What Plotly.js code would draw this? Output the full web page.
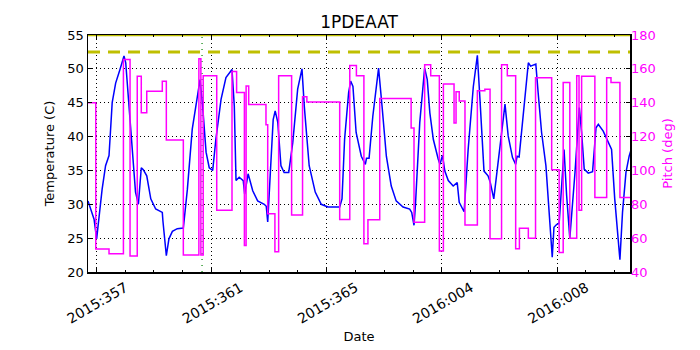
<!DOCTYPE html>
<html>
<head>
<meta charset="utf-8">
<script src="https://cdn.plot.ly/plotly-3.0.1.min.js"></script>
<style>
  body { margin: 0; background: #fff; }
  #graph { width: 700px; height: 350px; }
</style>
</head>
<body>
<div id="graph"></div>
<script>
// days counted from 2015:357 00:00
const tempDays = [-0.29, -0.08, 0.01, 0.2, 0.32, 0.44, 0.55, 0.67, 0.82, 0.96, 1.02, 1.19, 1.36, 1.46, 1.56, 1.63, 1.75, 1.89, 2.06, 2.29,
  2.31, 2.43, 2.52, 2.64, 2.81, 3.02, 3.16, 3.33, 3.5, 3.6, 3.69, 3.81, 3.92, 4.04, 4.15, 4.33, 4.5, 4.71, 4.79, 4.85,
  4.96, 5.1, 5.15, 5.27, 5.43, 5.6, 5.83, 5.9, 5.95, 6.03, 6.14, 6.21, 6.3, 6.41, 6.52, 6.68, 6.82, 6.99, 7.14, 7.22,
  7.39, 7.6, 7.81, 8.04, 8.45, 8.53, 8.62, 8.76, 8.83, 8.91, 9.02, 9.2, 9.34, 9.38, 9.47, 9.6, 9.8, 9.92, 10.07, 10.24,
  10.41, 10.65, 10.88, 10.95, 11.03, 11.08, 11.23, 11.4, 11.49, 11.58, 11.7, 11.87, 11.93, 12.02, 12.1, 12.22, 12.39, 12.53, 12.6, 12.77,
  12.91, 13.09, 13.23, 13.32, 13.46, 13.6, 13.68, 13.8, 14.01, 14.19, 14.3, 14.45, 14.56, 14.61, 14.68, 14.82, 15.0, 15.08, 15.26, 15.34,
  15.46, 15.61, 15.73, 15.83, 15.89, 15.98, 16.07, 16.24, 16.33, 16.44, 16.62, 16.77, 16.85, 16.94, 17.08, 17.23, 17.35, 17.43, 17.6, 17.77,
  17.89, 18.0, 18.18, 18.27, 18.39, 18.5, 18.6];
const tempVals = [30.5, 27.8, 24.9, 32.2, 35.7, 37.2, 45.0, 47.9, 49.9, 51.9, 50.9, 41.1, 31.8, 30.0, 35.4, 35.1, 34.2, 30.8, 29.3, 28.8,
  27.6, 22.4, 24.9, 26.0, 26.4, 26.5, 32.2, 41.1, 45.5, 48.4, 44.5, 37.7, 35.4, 35.0, 39.6, 45.5, 48.7, 49.9, 44.5, 33.5,
  34.0, 33.5, 31.5, 34.5, 32.0, 30.5, 30.0, 29.7, 27.4, 34.7, 42.5, 43.8, 42.1, 35.7, 34.7, 34.7, 39.1, 47.0, 50.0, 44.5,
  35.7, 31.8, 30.0, 29.6, 29.6, 30.8, 39.6, 46.5, 48.2, 47.4, 40.6, 37.1, 35.9, 36.8, 36.8, 43.0, 50.1, 44.5, 37.1, 32.7,
  30.5, 29.6, 29.3, 28.8, 26.9, 29.9, 42.1, 50.1, 48.4, 43.5, 39.6, 36.7, 35.9, 37.2, 34.9, 33.5, 32.7, 33.2, 30.3, 28.9,
  38.1, 47.4, 52.0, 45.5, 34.9, 34.2, 33.2, 30.8, 38.1, 44.8, 40.1, 36.9, 35.9, 37.1, 37.0, 43.0, 50.9, 50.4, 50.7, 46.5,
  40.6, 35.7, 28.3, 22.2, 26.6, 27.0, 27.2, 38.1, 31.3, 25.0, 34.7, 44.3, 40.6, 35.2, 34.6, 34.8, 41.3, 41.8, 40.8, 39.1,
  38.1, 30.8, 21.8, 28.8, 34.7, 37.1, 38.5];

// pitch holds each value until the next time
const pitchDays = [-0.4, -0.02, 0.44, 0.94, 1.17, 1.42, 1.56, 1.75, 2.29, 2.43, 3.02, 3.56, 3.63, 3.71, 4.18, 4.71, 4.87, 5.14, 5.2, 5.29,
  5.89, 5.95, 6.2, 6.33, 6.78, 7.16, 7.31, 8.45, 8.8, 9.03, 9.29, 9.43, 9.84, 10.93, 11.03, 11.4, 11.61, 11.91, 12.05, 12.42,
  12.49, 12.6, 12.8, 13.23, 13.49, 13.67, 14.07, 14.27, 14.56, 14.69, 15.0, 15.25, 15.81, 16.07, 16.21, 16.44, 16.68, 16.76, 16.85, 17.31,
  17.72, 17.87, 18.18, 18.6];
const pitchVals = [140, 53.6, 50.8, 165.5, 49.5, 155.6, 134, 146.7, 152.7, 118, 50, 166, 50, 156, 76.5, 158.5, 146, 55.6, 149.8, 139,
  127, 74.4, 52, 156, 73.7, 143.5, 140.4, 71, 162, 156, 56.7, 70.8, 142.5, 125, 69.4, 162.5, 156, 52.4, 151, 128,
  146.5, 141, 67.8, 147, 148, 59.6, 162.5, 156, 53.7, 65.8, 60, 154.7, 100.4, 51.5, 152, 60, 156, 76.5, 155.6, 84,
  154.7, 152, 84, 84];

const limitTemp = 52.5;
const topTemp = 55;
const markerDay = 3.67;
const xRangeDays = [-0.29, 18.53];

const DAY = 86400000;
const base = Date.UTC(2015, 11, 23); // 2015:357
const toMs = d => base + d * DAY;

const tempTrace = {
    x: tempDays.map(toMs), y: tempVals,
    type: 'scatter', mode: 'lines',
    line: { color: 'blue', width: 1.5 },
    yaxis: 'y', hoverinfo: 'skip'
};

const pitchTrace = {
    x: pitchDays.map(toMs), y: pitchVals,
    type: 'scatter', mode: 'lines',
    line: { color: '#ff00ff', width: 1.5, shape: 'hv' },
    yaxis: 'y2', hoverinfo: 'skip'
};

const xr = xRangeDays.map(toMs);

const limitTrace = {
    x: xr, y: [limitTemp, limitTemp],
    type: 'scatter', mode: 'lines',
    line: { color: '#bfbf00', width: 3, dash: '12px,8px' },
    yaxis: 'y', hoverinfo: 'skip'
};
const topTrace = {
    x: xr, y: [topTemp, topTemp],
    type: 'scatter', mode: 'lines',
    line: { color: '#bfbf00', width: 2.5 },
    yaxis: 'y', hoverinfo: 'skip', cliponaxis: false
};
const markerTrace = {
    x: [toMs(markerDay), toMs(markerDay)], y: [20, 55],
    type: 'scatter', mode: 'lines',
    line: { color: 'green', width: 1.2, dash: '1px,5px' },
    yaxis: 'y', hoverinfo: 'skip'
};

const font = { family: 'DejaVu Sans', size: 13, color: 'black' };

const layout = {
    width: 700, height: 350,
    margin: { l: 88, r: 70, t: 35, b: 78 },
    paper_bgcolor: 'white', plot_bgcolor: 'white',
    showlegend: false,
    font: font,
    title: {
        text: '1PDEAAT', font: { family: 'DejaVu Sans', size: 17, color: 'black' },
        x: 0.5, xref: 'paper', y: 0.937, yref: 'container', yanchor: 'middle'
    },
    xaxis: {
        type: 'date',
        range: xr,
        tick0: toMs(0), dtick: 4 * DAY,
        tickformat: '%Y:%j',
        tickangle: -30,
        tickfont: { family: 'DejaVu Sans', size: 14, color: 'black' },
        ticklabelshift: 29,
        ticklabelstandoff: 1,
        ticks: 'inside', ticklen: 4, tickcolor: 'black',
        minor: { dtick: DAY, tick0: toMs(0), ticks: 'inside', ticklen: 2, tickcolor: 'black', showgrid: false },
        showgrid: true, gridcolor: 'black', griddash: '1px,3px', gridwidth: 1,
        showline: true, linecolor: 'black', linewidth: 1.5, mirror: 'ticks',
        zeroline: false,
        title: { text: 'Date', font: font, standoff: 6 }
    },
    yaxis: {
        range: [20, 55], dtick: 5,
        ticks: 'inside', ticklen: 4, tickcolor: 'black',
        showgrid: true, gridcolor: 'black', griddash: '1px,3px', gridwidth: 1,
        showline: true, linecolor: 'black', linewidth: 1.5, mirror: true,
        zeroline: false,
        title: { text: 'Temperature (C)', font: font, standoff: 10 }
    },
    yaxis2: {
        range: [40, 180], dtick: 20,
        overlaying: 'y', side: 'right',
        ticks: 'inside', ticklen: 4, tickcolor: 'black',
        tickfont: { family: 'DejaVu Sans', size: 13, color: '#ff00ff' },
        showgrid: false, zeroline: false,
        title: { text: 'Pitch (deg)', font: { family: 'DejaVu Sans', size: 13, color: '#ff00ff' }, standoff: 8 }
    }
};

Plotly.newPlot('graph', [markerTrace, limitTrace, pitchTrace, tempTrace, topTrace], layout, { staticPlot: true });
</script>
</body>
</html>
